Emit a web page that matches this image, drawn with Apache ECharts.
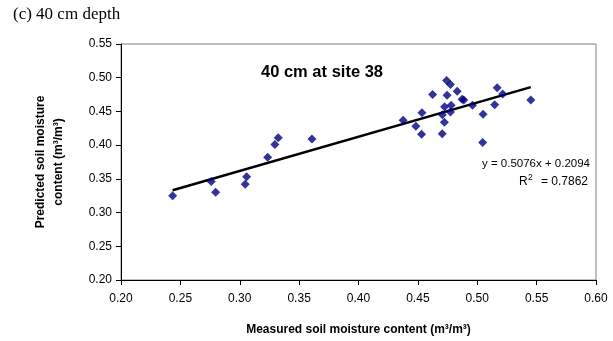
<!DOCTYPE html>
<html><head><meta charset="utf-8">
<script src="https://cdn.jsdelivr.net/npm/echarts@6/dist/echarts.min.js"></script>
<style>html,body{margin:0;padding:0;background:#fff}#c{width:613px;height:341px}</style>
</head><body><div id="c"></div>
<script>
var measured = [0.2435,0.276,0.2797,0.3046,0.3058,0.3235,0.3296,0.3324,0.3608,0.4376,0.4483,0.4531,0.4534,0.4624,0.4705,0.4706,0.4723,0.4725,0.4746,0.4742,0.4774,0.478,0.4774,0.4831,0.4872,0.4887,0.496,0.5049,0.5046,0.5147,0.5168,0.5214,0.5451];
var predicted = [0.325,0.346,0.330,0.342,0.353,0.382,0.401,0.411,0.409,0.437,0.428,0.416,0.448,0.475,0.417,0.445,0.434,0.457,0.474,0.496,0.490,0.459,0.449,0.480,0.468,0.467,0.459,0.446,0.404,0.460,0.485,0.476,0.467];
var slope = 0.5076, intercept = 0.2094;
var xTicks = [0.20,0.25,0.30,0.35,0.40,0.45,0.50,0.55,0.60];
var yTicks = [0.20,0.25,0.30,0.35,0.40,0.45,0.50,0.55];
var chartTitle = '40 cm at site 38';
var caption = '(c) 40 cm depth';
var eqText = 'y = 0.5076x + 0.2094';
var r2Value = '0.7862';
var xName = 'Measured soil moisture content (m\u00B3/m\u00B3)';
var yName = 'Predicted soil moisture\ncontent (m\u00B3/m\u00B3)';

var pts = measured.map(function(x,i){return [x,predicted[i]];});
var xmin = Math.min.apply(null, measured), xmax = Math.max.apply(null, measured);
var trend = [[xmin, slope*xmin+intercept],[xmax, slope*xmax+intercept]];

var chart = echarts.init(document.getElementById('c'), null, {renderer:'canvas'});
var F = 'Liberation Sans, Arial, sans-serif';
chart.setOption({
  animation:false,
  backgroundColor:'#fff',
  grid:{left:121,right:17,top:44,bottom:61,show:true,borderColor:'#808080',borderWidth:1,backgroundColor:'transparent'},
  xAxis:{type:'value',min:xTicks[0],max:xTicks[xTicks.length-1],interval:0.05,
    axisLine:{show:true,onZero:false,lineStyle:{color:'#000',width:1}},
    axisTick:{show:true,length:5,inside:false,lineStyle:{color:'#000'}},
    splitLine:{show:false},
    axisLabel:{fontFamily:F,fontSize:12,color:'#000',margin:13,formatter:function(v){return v.toFixed(2);}},
    name:xName,nameLocation:'middle',nameGap:44,
    nameTextStyle:{fontFamily:F,fontSize:12,fontWeight:'bold',color:'#000'}
  },
  yAxis:{type:'value',min:yTicks[0],max:yTicks[yTicks.length-1],interval:0.05,
    axisLine:{show:true,onZero:false,lineStyle:{color:'#000',width:1}},
    axisTick:{show:true,length:5,inside:false,lineStyle:{color:'#000'}},
    splitLine:{show:false},
    axisLabel:{fontFamily:F,fontSize:12,color:'#000',margin:9,formatter:function(v){return v.toFixed(2);}},
    name:yName,nameLocation:'middle',nameGap:53,
    nameTextStyle:{fontFamily:F,fontSize:12,fontWeight:'bold',color:'#000',lineHeight:18}
  },
  title:[
    {text:caption,left:8,top:1,textStyle:{fontFamily:'Liberation Serif, Times New Roman, serif',fontSize:17,fontWeight:'normal',color:'#000'}},
    {text:chartTitle,left:317,top:59,textAlign:'center',textStyle:{fontFamily:F,fontSize:16.5,fontWeight:'bold',color:'#000'}}
  ],
  graphic:[
    {type:'text',right:23,top:158,style:{text:eqText,font:'11.5px '+F,fill:'#000'}},
    {type:'text',left:519,top:176,style:{text:'R',font:'12px '+F,fill:'#000'}},
    {type:'text',left:528,top:173,style:{text:'2',font:'8.5px '+F,fill:'#000'}},
    {type:'text',right:25,top:176,style:{text:'= '+r2Value,font:'12px '+F,fill:'#000'}}
  ],
  series:[
    {type:'line',data:trend,symbol:'none',lineStyle:{color:'#000',width:2.5},z:2},
    {type:'scatter',data:pts,symbol:'diamond',symbolSize:9,itemStyle:{color:'#000080'},z:3}
  ]
});
</script></body></html>
